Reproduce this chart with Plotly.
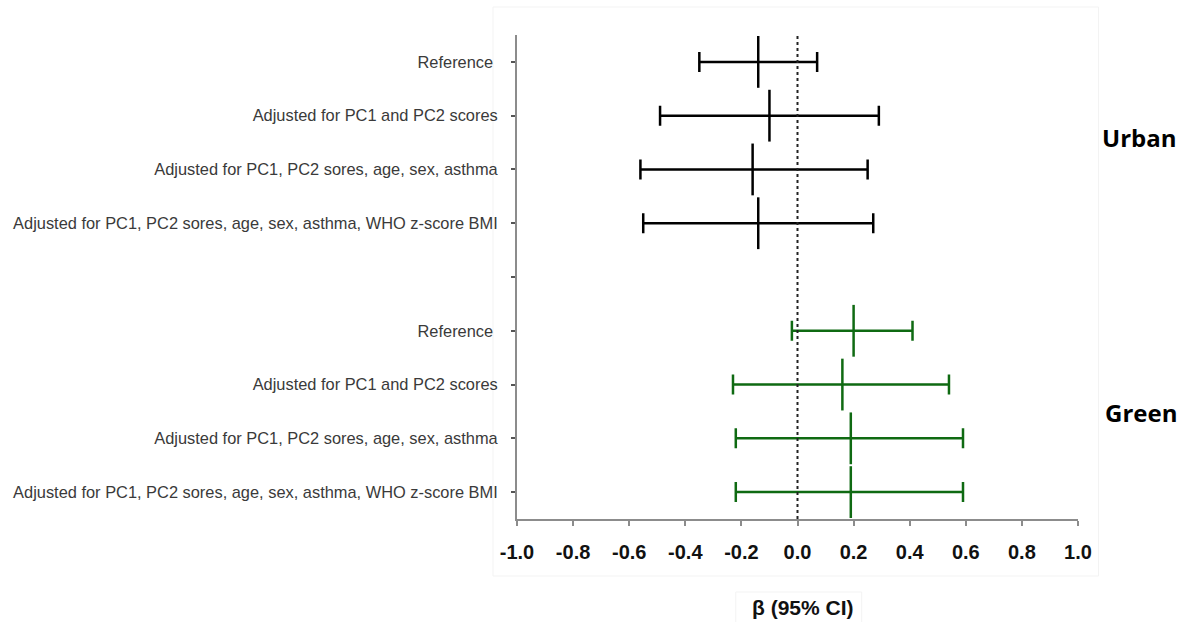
import plotly.graph_objects as go

# Model labels (one blank spacer row separates the two exposure groups)
row_labels = [
    "Reference ",
    "Adjusted for PC1 and PC2 scores",
    "Adjusted for PC1, PC2 sores, age, sex, asthma",
    "Adjusted for PC1, PC2 sores, age, sex, asthma, WHO z-score BMI",
    "",
    "Reference ",
    "Adjusted for PC1 and PC2 scores",
    "Adjusted for PC1, PC2 sores, age, sex, asthma",
    "Adjusted for PC1, PC2 sores, age, sex, asthma, WHO z-score BMI",
]

# Urban exposure: beta and 95% CI
urban_rows = [0, 1, 2, 3]
urban_beta = [-0.14, -0.10, -0.16, -0.14]
urban_lo = [-0.35, -0.49, -0.56, -0.55]
urban_hi = [0.07, 0.29, 0.25, 0.27]

# Green exposure: beta and 95% CI
green_rows = [5, 6, 7, 8]
green_beta = [0.20, 0.16, 0.19, 0.19]
green_lo = [-0.02, -0.23, -0.22, -0.22]
green_hi = [0.41, 0.54, 0.59, 0.59]

x_ticks = [-1.0, -0.8, -0.6, -0.4, -0.2, 0.0, 0.2, 0.4, 0.6, 0.8, 1.0]
x_tick_text = ["-1.0", "-0.8", "-0.6", "-0.4", "-0.2", "0.0", "0.2", "0.4", "0.6", "0.8", "1.0"]

W, H = 1186, 622
ML, MR, MT, MB = 517, 107.5, 35, 103
PW, PH = W - ML - MR, H - MT - MB


def px_x(p):
    return (p - ML) / PW


def px_y(p):
    return (H - MB - p) / PH


def ci_trace(rows, beta, lo, hi, color):
    return go.Scatter(
        x=beta,
        y=rows,
        mode="markers",
        marker=dict(symbol="line-ns", size=37, line=dict(width=2.5, color=color), color=color),
        error_x=dict(
            type="data",
            symmetric=False,
            array=[h - b for h, b in zip(hi, beta)],
            arrayminus=[b - l for b, l in zip(beta, lo)],
            color=color,
            thickness=2.5,
            width=10,
        ),
        showlegend=False,
        hoverinfo="skip",
    )


fig = go.Figure()
fig.add_trace(ci_trace(urban_rows, urban_beta, urban_lo, urban_hi, "#000000"))
fig.add_trace(ci_trace(green_rows, green_beta, green_lo, green_hi, "#0f6a12"))

axis_grey = "#8c8c8c"

fig.update_layout(
    width=W,
    height=H,
    margin=dict(l=ML, r=MR, t=MT, b=MB, pad=0),
    paper_bgcolor="white",
    plot_bgcolor="white",
    font=dict(family="Arial, Liberation Sans, sans-serif", color="#000000"),
    xaxis=dict(
        range=[-1.0, 1.0],
        tickvals=x_ticks,
        ticktext=x_tick_text,
        showgrid=False,
        zeroline=False,
        showline=True,
        linecolor=axis_grey,
        linewidth=1.5,
        ticks="outside",
        ticklen=5,
        tickwidth=1.5,
        tickcolor=axis_grey,
        tickfont=dict(size=20, family="Arial, Liberation Sans, sans-serif", color="#111111", weight="bold"),
        ticklabelstandoff=9,
    ),
    yaxis=dict(
        range=[8.5, -0.5],
        tickvals=list(range(len(row_labels))),
        ticktext=row_labels,
        showgrid=False,
        zeroline=False,
        showline=True,
        linecolor=axis_grey,
        linewidth=2,
        ticks="outside",
        ticklen=4,
        tickwidth=1.5,
        tickcolor="#555555",
        tickfont=dict(size=16.4, color="#3a3a3a"),
        ticklabelstandoff=10,
    ),
    shapes=[
        # reference line at beta = 0
        dict(type="line", xref="x", yref="paper", x0=0, x1=0, y0=0, y1=1,
             line=dict(color="#222222", width=2, dash="dot")),
        # faint frame around the plotting area
        dict(type="rect", xref="paper", yref="paper",
             x0=px_x(493), x1=px_x(1099), y0=px_y(576), y1=px_y(7),
             line=dict(color="#f3f3f3", width=1), layer="below"),
        # faint frame around the axis title
        dict(type="rect", xref="paper", yref="paper",
             x0=px_x(736), x1=px_x(862), y0=px_y(625), y1=px_y(592),
             line=dict(color="#f3f3f3", width=1), layer="below"),
    ],
    annotations=[
        dict(text="β (95% CI)", xref="x", yref="paper", x=0.02, y=px_y(607),
             xanchor="center", yanchor="middle", showarrow=False,
             font=dict(size=21, color="#111111", weight="bold")),
        dict(text="Urban", xref="paper", yref="paper", x=px_x(1180), y=px_y(137),
             xanchor="right", yanchor="middle", showarrow=False,
             font=dict(size=24, family="Open Sans, sans-serif", color="#000000", weight="bold")),
        dict(text="Green", xref="paper", yref="paper", x=px_x(1180), y=px_y(412),
             xanchor="right", yanchor="middle", showarrow=False,
             font=dict(size=24, family="Open Sans, sans-serif", color="#000000", weight="bold")),
    ],
)

fig.write_html("out.html")
